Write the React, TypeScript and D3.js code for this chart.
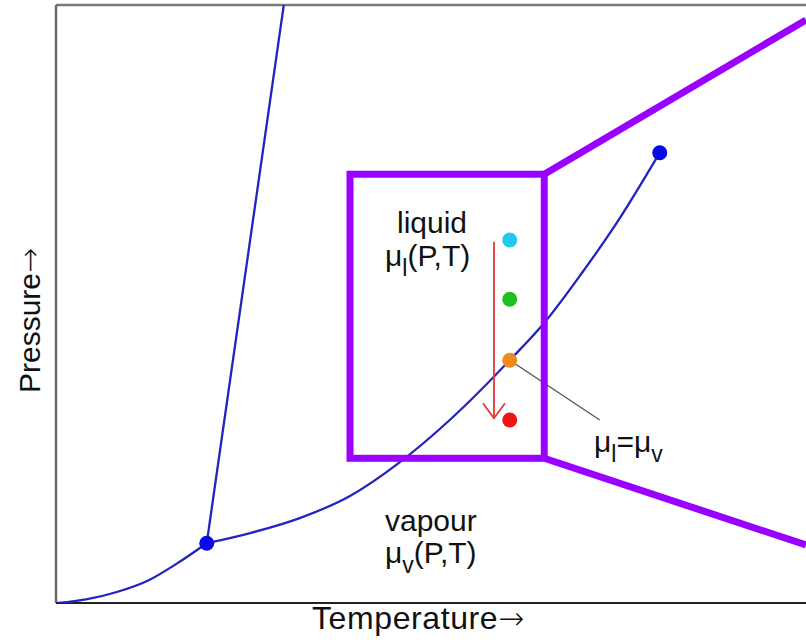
import React from "react";
import * as d3 from "d3";

// Phase diagram data (abstract units: temperature 0..100, pressure 0..100)
const sublimationT = [0.3, 4, 8, 12.5, 16, 20.1];
const sublimationP = [0, 0.6, 1.8, 3.9, 6.5, 10.0];

const vapourT = [20.1, 25.9, 32.5, 39.2, 45.9, 52.5, 60.5, 65.2, 69.9, 75.2, 80.5];
const vapourP = [10.0, 11.7, 14.2, 17.9, 23.6, 30.6, 40.6, 47.0, 54.8, 64.4, 75.3];

const meltingT = [20.1, 30.6];
const meltingP = [10.0, 102];

const specialT = [20.1, 80.5]; // triple point, critical point
const specialP = [10.0, 75.3];

const pathT = 60.5;
const pathP = [60.7, 50.8, 40.6, 30.6];
const pathColors = ["#22c8f0", "#1fbf22", "#f08a1c", "#ee1414"];

const arrowT = 58.4;
const arrowP = [60.4, 30.9];

const zoomBoxT = [39.2, 65.1];
const zoomBoxP = [24.2, 71.7];
const zoomLinesEndT = 100;
const zoomLinesEndP = [97.5, 9.7];

const leaderEnd = [72.5, 30.6];

const W = 806;
const H = 642;

export default function App() {
  const x = d3.scaleLinear().domain([0, 100]).range([56, 806]);
  const y = d3.scaleLinear().domain([0, 100]).range([603, 5]);

  const line = d3
    .line<[number, number]>()
    .x((d) => x(d[0]))
    .y((d) => y(d[1]))
    .curve(d3.curveMonotoneX);
  const straight = d3
    .line<[number, number]>()
    .x((d) => x(d[0]))
    .y((d) => y(d[1]));

  const sub = sublimationT.map((t, i) => [t, sublimationP[i]] as [number, number]);
  const vap = vapourT.map((t, i) => [t, vapourP[i]] as [number, number]);
  const mel = meltingT.map((t, i) => [t, meltingP[i]] as [number, number]);

  const font = "'Liberation Sans', Arial, Helvetica, sans-serif";
  const arrowFont = "'DejaVu Sans', sans-serif";
  const blue = "#2323c0";
  const purple = "#9a00ff";

  const ax = x(arrowT);
  const ay0 = y(arrowP[0]);
  const ay1 = y(arrowP[1]);

  return (
    <svg
      width={W}
      height={H}
      style={{ position: "absolute", left: 0, top: 0, background: "#fff" }}
      fontFamily={font}
    >
      <defs>
        <clipPath id="plot">
          <rect x={x(0)} y={y(100)} width={x(100) - x(0)} height={y(0) - y(100)} />
        </clipPath>
      </defs>
      <rect x={0} y={0} width={W} height={H} fill="#fff" />

      {/* frame */}
      <line x1={x(0)} x2={x(100)} y1={y(100)} y2={y(100)} stroke="#7a7a7a" strokeWidth={2.5} />
      <line x1={x(0)} x2={x(0)} y1={y(100)} y2={y(0)} stroke="#6a6a6a" strokeWidth={2.5} />
      <line x1={x(0)} x2={x(100)} y1={y(0)} y2={y(0)} stroke="#222" strokeWidth={2} />

      <g clipPath="url(#plot)">
        <path d={line(sub) || ""} fill="none" stroke={blue} strokeWidth={2.3} />
        <path d={line(vap) || ""} fill="none" stroke={blue} strokeWidth={2.3} />
        <path d={straight(mel) || ""} fill="none" stroke={blue} strokeWidth={2.3} />
      </g>

      {specialT.map((t, i) => (
        <circle key={"sp" + i} cx={x(t)} cy={y(specialP[i])} r={7.5} fill="#0a0ae6" />
      ))}

      {/* leader line */}
      <line
        x1={x(pathT)}
        y1={y(pathP[2])}
        x2={x(leaderEnd[0])}
        y2={y(leaderEnd[1])}
        stroke="#555"
        strokeWidth={1.3}
      />

      {/* red arrow */}
      <line x1={ax} x2={ax} y1={ay0} y2={ay1} stroke="#e23a3a" strokeWidth={1.8} />
      <path
        d={`M${ax - 11},${ay1 - 15} L${ax},${ay1} L${ax + 11},${ay1 - 15}`}
        fill="none"
        stroke="#e23a3a"
        strokeWidth={1.8}
      />

      {pathP.map((p, i) => (
        <circle key={"pp" + i} cx={x(pathT)} cy={y(p)} r={7.5} fill={pathColors[i]} />
      ))}

      {/* zoom box */}
      <rect
        x={x(zoomBoxT[0])}
        y={y(zoomBoxP[1])}
        width={x(zoomBoxT[1]) - x(zoomBoxT[0])}
        height={y(zoomBoxP[0]) - y(zoomBoxP[1])}
        fill="none"
        stroke={purple}
        strokeWidth={7}
      />
      <line
        x1={x(zoomBoxT[1])}
        y1={y(zoomBoxP[1])}
        x2={x(zoomLinesEndT)}
        y2={y(zoomLinesEndP[0])}
        stroke={purple}
        strokeWidth={7}
      />
      <line
        x1={x(zoomBoxT[1])}
        y1={y(zoomBoxP[0])}
        x2={x(zoomLinesEndT)}
        y2={y(zoomLinesEndP[1])}
        stroke={purple}
        strokeWidth={7}
      />

      {/* labels */}
      <g fill="#111" fontSize={30}>
        <text x={397} y={233}>liquid</text>
        <text x={385} y={266}>
          μ<tspan dy={10} fontSize={23}>l</tspan>
          <tspan dy={-10}>(P,T)</tspan>
        </text>
        <text x={385} y={531}>vapour</text>
        <text x={385} y={563}>
          μ<tspan dy={10} fontSize={23}>v</tspan>
          <tspan dy={-10}>(P,T)</tspan>
        </text>
        <text x={594} y={452}>
          μ<tspan dy={10} fontSize={23}>l</tspan>
          <tspan dy={-10}>=μ</tspan>
          <tspan dy={10} fontSize={23}>v</tspan>
        </text>
        <text x={312} y={629} fontSize={32} letterSpacing={0.6}>
          Temperature
          <tspan fontFamily={arrowFont} fontSize={31} fontWeight={300} letterSpacing={0}>
            →
          </tspan>
        </text>
        <text x={40} y={393} transform="rotate(-90,40,393)">
          Pressure
          <tspan fontFamily={arrowFont} fontSize={30} fontWeight={300}>
            →
          </tspan>
        </text>
      </g>
    </svg>
  );
}
